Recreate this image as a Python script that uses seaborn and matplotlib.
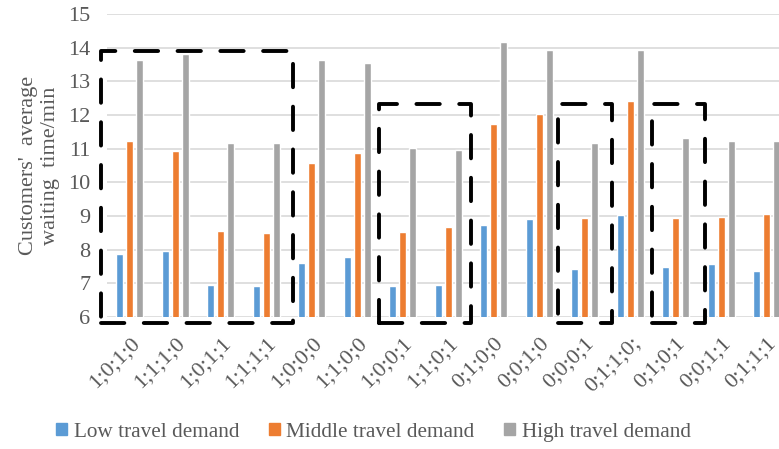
import pandas as pd
import matplotlib.pyplot as plt
import seaborn as sns

scenarios = ['1;0;1;0', '1;1;1;0', '1;0;1;1', '1;1;1;1', '1;0;0;0', '1;1;0;0',
             '1;0;0;1', '1;1;0;1', '0;1;0;0', '0;0;1;0', '0;0;0;1', '0;1;1;0;',
             '0;1;0;1', '0;0;1;1', '0;1;1;1']
low = [7.88, 7.97, 6.96, 6.93, 7.6, 7.78, 6.92, 6.96, 8.72, 8.9, 7.44, 9.03, 7.48, 7.56, 7.37]
middle = [11.22, 10.92, 8.56, 8.48, 10.58, 10.88, 8.52, 8.68, 11.73, 12.04, 8.94, 12.4, 8.94, 8.98, 9.07]
high = [13.64, 13.82, 11.18, 11.18, 13.64, 13.54, 11.02, 10.97, 14.16, 13.94, 11.18, 13.94, 11.32, 11.23, 11.23]
series = ['Low travel demand', 'Middle travel demand', 'High travel demand']
colors = ['#5B9BD5', '#ED7D31', '#A5A5A5']

# dashed boxes around scenario groups: (left, right, top) in data units
boxes = [(-0.64, 3.58, 13.9), (5.48, 7.49, 12.33), (9.41, 10.6, 12.33), (11.48, 12.65, 12.33)]
box_bottom = 5.81

df = pd.DataFrame({
    'scenario': scenarios * 3,
    'value': low + middle + high,
    'series': [s for s in series for _ in scenarios],
})

sns.set_theme(style='white')
plt.rcParams['font.family'] = ['Liberation Serif', 'DejaVu Serif']
text_color = '#595959'

fig = plt.figure(figsize=(7.79, 4.49), dpi=100)
ax = fig.add_axes([0.1374, 0.294, 0.876, 0.675])

sns.barplot(data=df, x='scenario', y='value', hue='series', palette=colors,
            width=0.66, gap=0.27, ax=ax, legend=False, saturation=1)

ax.set_ylim(6, 15)
ax.set_yticks(range(6, 16))
ax.set_xlim(-0.5, len(scenarios) - 0.5)
ax.yaxis.grid(True, color='#D9D9D9', linewidth=1.2)
ax.set_axisbelow(True)
for s in ax.spines.values():
    s.set_visible(False)

ax.tick_params(axis='y', length=0, pad=12, labelsize=16, labelcolor=text_color)
ax.tick_params(axis='x', length=0, pad=12, labelsize=16, labelcolor=text_color)
plt.setp(ax.get_xticklabels(), rotation=45, ha='right', va='top', rotation_mode='anchor')
ax.set_xlabel('')
ax.set_ylabel("Customers'  average\nwaiting  time/min", fontsize=16, color=text_color,
              labelpad=6, linespacing=1.2)

for left, right, top in boxes:
    ax.plot([left, right, right, left, left], [box_bottom, box_bottom, top, top, box_bottom],
            color='black', linewidth=2.8, linestyle=(0, (6, 5)), clip_on=False,
            dash_capstyle='round', solid_joinstyle='round', dash_joinstyle='round', zorder=5)

handles = [plt.Rectangle((0, 0), 1, 1, color=c) for c in colors]
fig.legend(handles, series, loc='center', bbox_to_anchor=(0.4795, 0.037), ncol=3,
           frameon=False, fontsize=15.3, handlelength=0.5, handleheight=0.5,
           handletextpad=0.32, columnspacing=1.4, labelcolor=text_color)

fig.savefig('out.png', dpi=100)
